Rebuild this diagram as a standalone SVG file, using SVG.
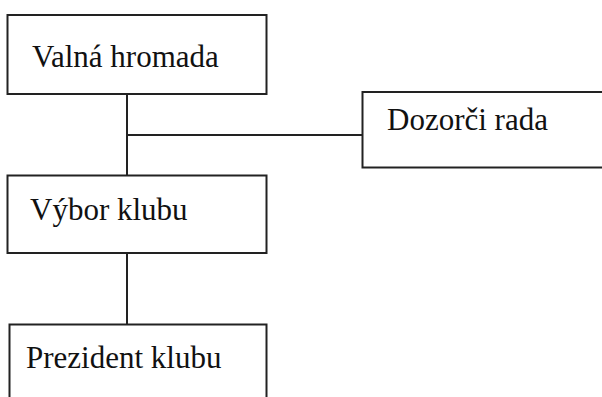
<svg xmlns="http://www.w3.org/2000/svg" width="602" height="397" viewBox="0 0 602 397">
<style>
.box{fill:#fff;stroke:#222;stroke-width:2}
.lbl{font-family:"Times New Roman","Liberation Serif",Tinos,"DejaVu Serif",serif;font-size:31px;fill:#111}
.conn{stroke:#222;stroke-width:2;fill:none}
</style>
<rect width="602" height="397" fill="#fff"/>
<g id="connectors">
<line class="conn" x1="127" y1="94" x2="127" y2="175"/>
<line class="conn" x1="127" y1="135" x2="362" y2="135"/>
<line class="conn" x1="127" y1="253" x2="127" y2="324"/>
</g>
<g id="valna-hromada">
<rect class="box" x="7.5" y="15" width="259" height="79"/>
<text class="lbl" x="32" y="67">Valná hromada</text>
</g>
<g id="dozorci-rada">
<rect class="box" x="362.5" y="92" width="250" height="75.5"/>
<text class="lbl" x="387" y="130">Dozorči rada</text>
</g>
<g id="vybor-klubu">
<rect class="box" x="7.5" y="175.5" width="259" height="77.5"/>
<text class="lbl" x="30" y="220">Výbor klubu</text>
</g>
<g id="prezident-klubu">
<rect class="box" x="9.5" y="324.5" width="257" height="80"/>
<text class="lbl" x="26" y="368">Prezident klubu</text>
</g>
</svg>
